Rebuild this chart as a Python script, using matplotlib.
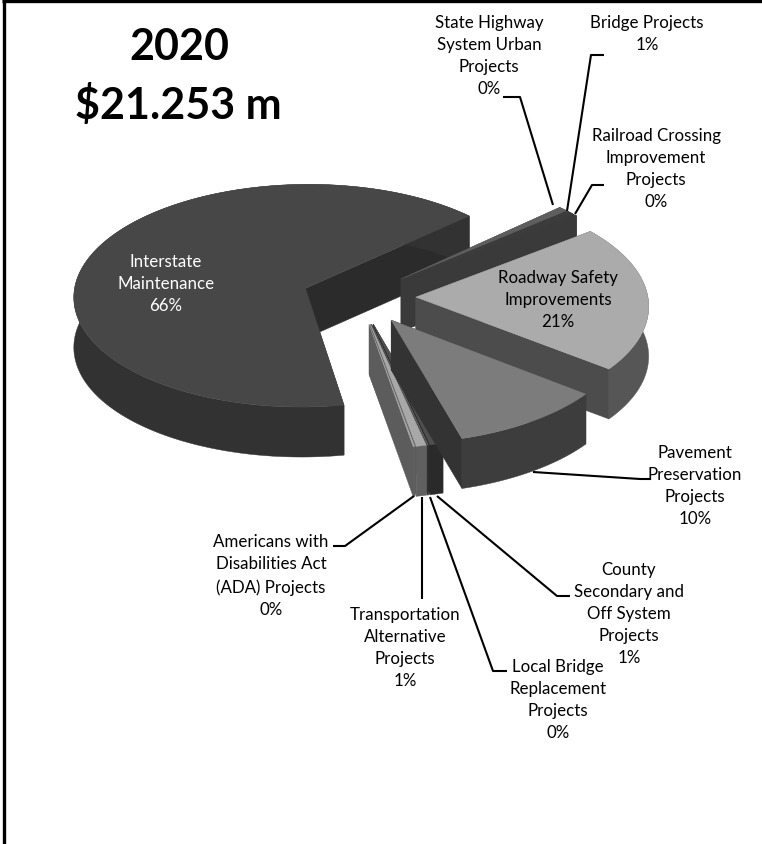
import numpy as np
import matplotlib
matplotlib.use("Agg")
import matplotlib.pyplot as plt
from matplotlib.patches import Polygon

plt.rcParams['font.family'] = ['Lato', 'DejaVu Sans']

# clockwise from the start of the State Highway slice
names = ['State Highway', 'Bridge', 'Railroad', 'Roadway Safety', 'Pavement',
         'County', 'Local Bridge', 'Transportation', 'ADA', 'Interstate']
values = [0.7, 0.6, 0.2, 21.0, 10.05, 0.85, 0.05, 0.65, 0.1, 65.8]
top_cols = ['#5e5e5e', '#3c3c3c', '#3a3a3a', '#ababab', '#7c7c7c',
            '#505050', '#606060', '#a8a8a8', '#a8a8a8', '#474747']
side_cols = ['#383838', '#383838', '#3a3a3a', '#565656', '#3d3d3d',
             '#2a2a2a', '#2a2a2a', '#606060', '#606060', '#323232']
face_cols = ['#3a3a3a', '#3a3a3a', '#3a3a3a', '#4c4c4c', '#333333',
             '#2a2a2a', '#404040', '#5c5c5c', '#5c5c5c', '#2b2b2b']
draw_order = [9, 0, 1, 2, 3, 5, 6, 7, 8, 4]

START = -43.0
CX, CY = 359, 298
A, B = 232, 112
K = 0.0667
EXPLODE = 0.245
DEPTH = 50


def project(X, Y):
    p = 1 / (1 - K * Y)
    return CX + A * X * p, CY + B * Y * p


fig = plt.figure(figsize=(7.62, 8.45), dpi=100)
ax = fig.add_axes([0, 0, 1, 1])
ax.set_xlim(0, 762)
ax.set_ylim(845, 0)
ax.axis('off')

spans = np.array(values) / sum(values) * 360
starts = START + np.concatenate([[0], np.cumsum(spans)[:-1]])

for i in draw_order:
    t0, t1 = np.radians(starts[i]), np.radians(starts[i] + spans[i])
    mid = (t0 + t1) / 2
    ox, oy = EXPLODE * np.cos(mid), EXPLODE * np.sin(mid)
    th = np.linspace(t0, t1, 200)
    ax_x, ax_y = project(ox + np.cos(th), oy + np.sin(th))
    ap_x, ap_y = project(ox, oy)
    arc = np.column_stack([ax_x, ax_y])
    apex = np.array([ap_x, ap_y])
    drop = np.array([0, DEPTH])

    # the two cut faces, then the outer wall, then the top
    for end, col in ((arc[0], face_cols[i]), (arc[-1], face_cols[i])):
        pts = [apex, end, end + drop, apex + drop]
        ax.add_patch(Polygon(pts, fc=col, ec=col, lw=0.3))
    wall = np.vstack([arc, (arc + drop)[::-1]])
    ax.add_patch(Polygon(wall, fc=side_cols[i], ec=side_cols[i], lw=0.3))
    ax.add_patch(Polygon(np.vstack([apex, arc]), fc=top_cols[i], ec=top_cols[i], lw=0.3))

# leader lines
leaders = [
    [(553, 206), (520, 98), (503, 98)],
    [(567, 212), (591, 56), (604, 56)],
    [(575, 215), (592, 186), (604, 186)],
    [(533, 473), (640, 480), (651, 480)],
    [(437, 497), (557, 597), (570, 597)],
    [(430, 498), (493, 672), (507, 672)],
    [(422, 498), (422, 600)],
    [(414, 497), (345, 547), (333, 547)],
]
for pts in leaders:
    xs, ys = zip(*pts)
    ax.plot(xs, ys, color='black', lw=1.5, solid_capstyle='butt')

labels = [
    ('State Highway\nSystem Urban\nProjects\n0%', 489, 56, 'black'),
    ('Bridge Projects\n1%', 647, 34, 'black'),
    ('Railroad Crossing\nImprovement\nProjects\n0%', 656, 169, 'black'),
    ('Roadway Safety\nImprovements\n21%', 558, 300, 'black'),
    ('Interstate\nMaintenance\n66%', 166, 284, 'white'),
    ('Pavement\nPreservation\nProjects\n10%', 695, 486, 'black'),
    ('County\nSecondary and\nOff System\nProjects\n1%', 629, 614, 'black'),
    ('Local Bridge\nReplacement\nProjects\n0%', 558, 700, 'black'),
    ('Transportation\nAlternative\nProjects\n1%', 405, 648, 'black'),
    ('Americans with\nDisabilities Act\n(ADA) Projects\n0%', 271, 576, 'black'),
]
for txt, x, y, col in labels:
    ax.text(x, y, txt, ha='center', va='center', fontsize=12.2, color=col, linespacing=1.48)

ax.text(179, 47.5, '2020', ha='center', va='center', fontsize=31, fontweight='bold')
ax.text(178, 105, '$21.253 m', ha='center', va='center', fontsize=31, fontweight='bold')

# frame
ax.plot([3.5, 3.5], [845, 1], color='black', lw=2.4, solid_capstyle='butt')
ax.plot([2, 762], [2.2, 2.2], color='black', lw=2.4, solid_capstyle='butt')

fig.savefig('out.png', dpi=100)
